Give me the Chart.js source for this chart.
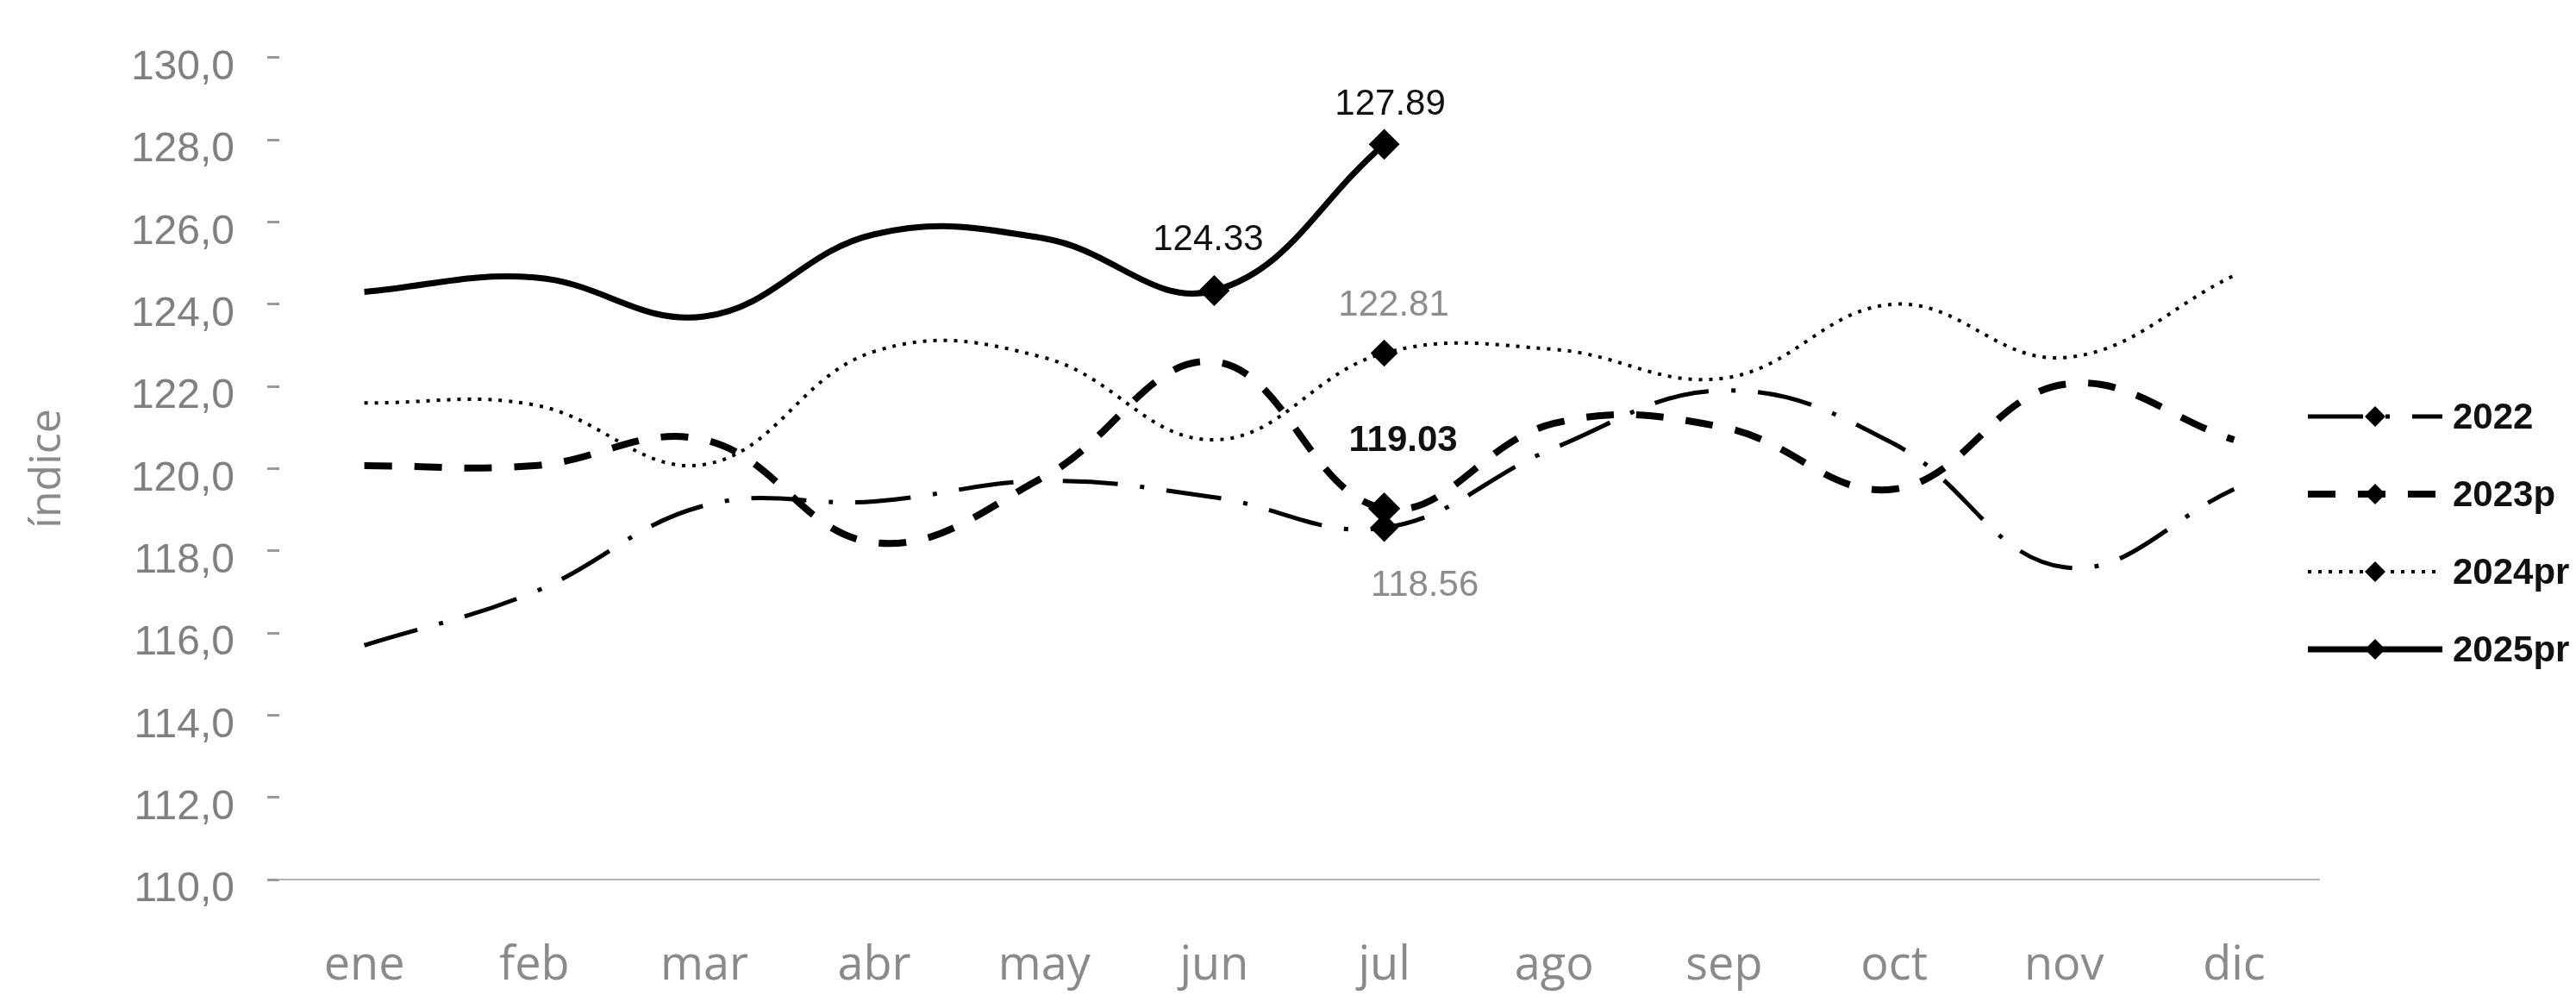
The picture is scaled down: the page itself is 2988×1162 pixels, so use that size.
<!DOCTYPE html>
<html>
<head>
<meta charset="utf-8">
<script src="https://cdn.jsdelivr.net/npm/chart.js@4.4.1/dist/chart.umd.min.js"></script>
<style>
    html, body { margin: 0; padding: 0; background: #ffffff; }
</style>
</head>
<body>
<canvas id="indice-chart" width="2988" height="1162"></canvas>
<script>
// categories and tick labels
var months = ['ene', 'feb', 'mar', 'abr', 'may', 'jun', 'jul', 'ago', 'sep', 'oct', 'nov', 'dic'];
var yTickValues = [110, 112, 114, 116, 118, 120, 122, 124, 126, 128, 130];

// series values
var values2022   = [115.7, 117.0, 119.1, 119.2, 119.7, 119.3, 118.56, 120.5, 121.9, 120.6, 117.6, 119.5];
var values2023p  = [120.07, 120.07, 120.7, 118.2, 119.8, 122.6, 119.03, 121.1, 121.0, 119.5, 122.05, 120.7];
var values2024pr = [121.6, 121.55, 120.1, 122.85, 122.7, 120.7, 122.81, 122.9, 122.2, 124.0, 122.7, 124.7];
var values2025pr = [124.3, 124.65, 123.7, 125.7, 125.6, 124.33, 127.89, null, null, null, null, null];

// which points carry a diamond marker and a value label
var marks2022   = [6];
var marks2023p  = [6];
var marks2024pr = [6];
var marks2025pr = [5, 6];

var allMarks = [marks2022, marks2023p, marks2024pr, marks2025pr];

// draws the value next to each marked point
const pointValueLabels = {
    id: 'pointValueLabels',
    afterDatasetsDraw: function(chart, args, opts) {
        const ctx = chart.ctx;
        opts.items.forEach(function(item) {
            const pt = chart.getDatasetMeta(item.dataset).data[item.index];
            const value = chart.data.datasets[item.dataset].data[item.index];
            ctx.save();
            ctx.font = (item.weight || 'normal') + ' ' + opts.size + 'px ' + opts.family;
            ctx.fillStyle = item.color;
            ctx.textAlign = 'center';
            ctx.textBaseline = 'middle';
            ctx.fillText(value.toFixed(2), pt.x + item.dx, pt.y + item.dy);
            ctx.restore();
        });
    }
};

// legend on the right: line sample with a diamond in the middle
const sideLegend = {
    id: 'sideLegend',
    afterDraw: function(chart, args, opts) {
        const ctx = chart.ctx;
        chart.data.datasets.forEach(function(ds, i) {
            const y = opts.top + i * opts.rowGap;
            const mid = opts.x + opts.lineLength / 2;
            ctx.save();
            ctx.strokeStyle = ds.borderColor;
            ctx.lineWidth = ds.borderWidth;
            ctx.setLineDash(ds.borderDash || []);
            ctx.beginPath();
            ctx.moveTo(opts.x, y);
            ctx.lineTo(opts.x + opts.lineLength, y);
            ctx.stroke();
            ctx.setLineDash([]);
            ctx.fillStyle = ds.borderColor;
            ctx.beginPath();
            ctx.moveTo(mid, y - opts.markerRadius);
            ctx.lineTo(mid + opts.markerRadius, y);
            ctx.lineTo(mid, y + opts.markerRadius);
            ctx.lineTo(mid - opts.markerRadius, y);
            ctx.closePath();
            ctx.fill();
            ctx.font = 'bold ' + opts.size + 'px ' + opts.family;
            ctx.fillStyle = '#111111';
            ctx.textAlign = 'left';
            ctx.textBaseline = 'middle';
            ctx.fillText(ds.label, opts.x + opts.lineLength + opts.textGap, y + 2);
            ctx.restore();
        });
    }
};

function markerRadius(context) {
    return allMarks[context.datasetIndex].indexOf(context.dataIndex) >= 0 ? 13 : 0;
}

const sans = '"Liberation Sans", Arial, sans-serif';

new Chart(document.getElementById('indice-chart'), {
    type: 'line',
    data: {
        labels: months,
        datasets: [
            {
                label: '2022',
                data: values2022,
                borderColor: '#000000',
                borderWidth: 5,
                borderDash: [64, 26, 5, 26]
            },
            {
                label: '2023p',
                data: values2023p,
                borderColor: '#000000',
                borderWidth: 8,
                borderDash: [32, 26]
            },
            {
                label: '2024pr',
                data: values2024pr,
                borderColor: '#000000',
                borderWidth: 4,
                borderDash: [4, 8]
            },
            {
                label: '2025pr',
                data: values2025pr,
                borderColor: '#000000',
                borderWidth: 7
            }
        ]
    },
    options: {
        responsive: false,
        animation: false,
        layout: {
            padding: { top: 30, right: 298, bottom: 0, left: 0 }
        },
        elements: {
            line: { tension: 0.4, fill: false },
            point: {
                pointStyle: 'rectRot',
                radius: markerRadius,
                backgroundColor: '#000000',
                borderWidth: 0,
                hoverRadius: markerRadius
            }
        },
        plugins: {
            legend: { display: false },
            tooltip: { enabled: false },
            pointValueLabels: {
                family: sans,
                size: 42,
                items: [
                    { dataset: 3, index: 5, dx: -7, dy: -59, color: '#111111' },
                    { dataset: 3, index: 6, dx: 7, dy: -46, color: '#111111' },
                    { dataset: 2, index: 6, dx: 11, dy: -55, color: '#8c8c8c' },
                    { dataset: 1, index: 6, dx: 22, dy: -78, color: '#111111', weight: 'bold' },
                    { dataset: 0, index: 6, dx: 47, dy: 67, color: '#8c8c8c' }
                ]
            },
            sideLegend: {
                x: 2677,
                top: 483,
                rowGap: 90,
                lineLength: 156,
                markerRadius: 12,
                textGap: 12,
                family: sans,
                size: 42
            }
        },
        scales: {
            x: {
                offset: true,
                grid: { display: false, drawTicks: false },
                border: { display: true, color: '#b4b4b4', width: 2 },
                ticks: {
                    color: '#8a8a8a',
                    font: { family: '"Open Sans", sans-serif', size: 54 },
                    padding: 68,
                    maxRotation: 0,
                    autoSkip: false
                },
                afterFit: function(scale) { scale.height = 142; }
            },
            y: {
                min: 110,
                max: 130,
                afterBuildTicks: function(scale) {
                    scale.ticks = yTickValues.map(function(v) { return { value: v }; });
                },
                ticks: {
                    color: '#808080',
                    font: { family: sans, size: 48 },
                    padding: 38,
                    labelOffset: 12,
                    callback: function(value) {
                        return value.toFixed(1).replace('.', ',');
                    }
                },
                grid: {
                    drawOnChartArea: false,
                    drawTicks: true,
                    tickLength: 14,
                    color: '#9a9a9a',
                    lineWidth: 3
                },
                border: { display: false },
                title: {
                    display: true,
                    text: 'índice',
                    color: '#8a8a8a',
                    font: { family: '"Open Sans", sans-serif', size: 50 },
                    padding: { top: 26, bottom: 0 }
                },
                afterFit: function(scale) { scale.width = 324; }
            }
        }
    },
    plugins: [pointValueLabels, sideLegend]
});
</script>
</body>
</html>
